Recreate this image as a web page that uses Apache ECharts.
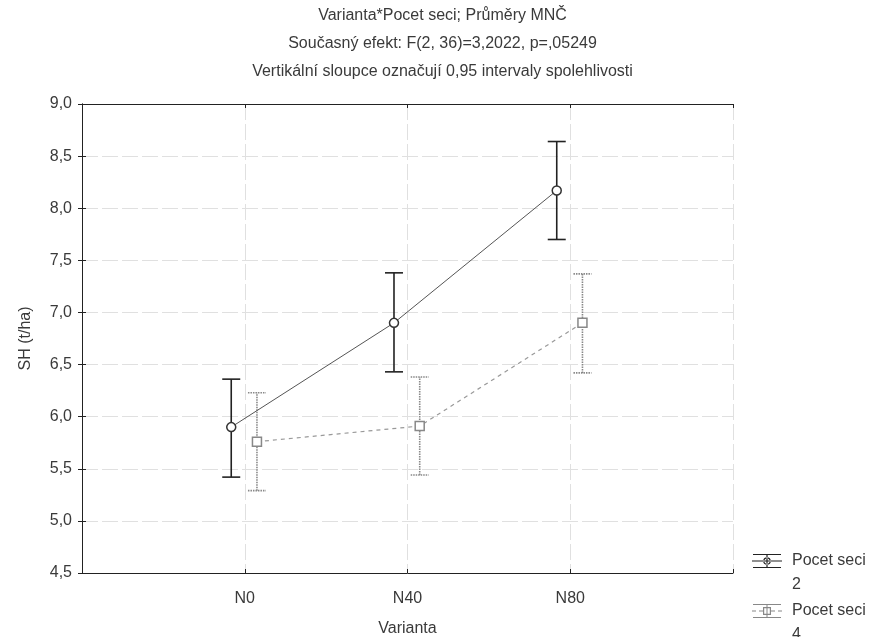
<!DOCTYPE html>
<html>
<head>
<meta charset="utf-8">
<script src="https://cdn.jsdelivr.net/npm/echarts@6/dist/echarts.min.js"></script>
<style>
  html, body { margin: 0; padding: 0; background: #fff; }
  #chart { width: 885px; height: 637px; }
</style>
</head>
<body>
<div id="chart"></div>
<script>
// Varianta x Pocet seci, means with 0.95 confidence intervals
const titleLines = [
  'Varianta*Pocet seci; Průměry MNČ',
  'Současný efekt: F(2, 36)=3,2022, p=,05249',
  'Vertikální sloupce označují 0,95 intervaly spolehlivosti'
];
const categories = ['N0', 'N40', 'N80'];
const seriesNames = ['Pocet seci 2', 'Pocet seci 4'];

const mean2 = [5.90, 6.90, 8.17];
const low2 = [5.42, 6.43, 7.70];
const high2 = [6.36, 7.38, 8.64];

const mean4 = [5.76, 5.91, 6.90];
const low4 = [5.29, 5.44, 6.42];
const high4 = [6.23, 6.38, 7.37];

const yMin = 4.5, yMax = 9.0, yStep = 0.5;

const font = "'Liberation Sans', Arial, sans-serif";
const textColor = '#3a3a3a';
// small horizontal shift so the two groups don't overlap at each category
const shift = [-0.083, 0.075];

// legend icons in a 30x48 box: caps, bar, line and marker drawn in the top part,
// two empty points keep the box tall so the icon sits next to the first text line
const iconBox = 'M0 0H0.01V0Z M0 48H0.01V48Z ';
const icon2 = 'path://' + iconBox +
  'M0 11.5H30V12.5H0Z M14.4 5H15.6V19H14.4Z M1 5H29V6H1Z M1 18H29V19H1Z ' +
  'M18.8 12A3.8 3.8 0 1 0 11.2 12A3.8 3.8 0 1 0 18.8 12Z M17.6 12A2.6 2.6 0 1 1 12.4 12A2.6 2.6 0 1 1 17.6 12Z';
const icon4 = 'path://' + iconBox +
  'M0 11.5H4V12.5H0Z M7 11.5H11V12.5H7Z M19 11.5H23V12.5H19Z M26 11.5H30V12.5H26Z ' +
  'M14.5 5H15.5V19H14.5Z M1 5H29V6H1Z M1 18H29V19H1Z ' +
  'M11 8H19V16H11Z M12.2 9.2V14.8H17.8V9.2Z';

function points(mean, k) {
  return mean.map((v, i) => [i + 1 + shift[k], v]);
}
function bars(low, high, k) {
  return low.map((v, i) => [i + 1 + shift[k], v, high[i]]);
}

function errorBar(style) {
  return function (params, api) {
    const x = api.value(0);
    const lo = api.coord([x, api.value(1)]);
    const hi = api.coord([x, api.value(2)]);
    const w = 9;
    return {
      type: 'group',
      children: [
        { type: 'line', shape: { x1: lo[0], y1: lo[1], x2: hi[0], y2: hi[1] }, style: style },
        { type: 'line', shape: { x1: hi[0] - w, y1: hi[1], x2: hi[0] + w, y2: hi[1] }, style: style },
        { type: 'line', shape: { x1: lo[0] - w, y1: lo[1], x2: lo[0] + w, y2: lo[1] }, style: style }
      ]
    };
  };
}

function legendFor(name, icon, color, top) {
  return {
    orient: 'vertical',
    left: 752,
    top: top,
    padding: 0,
    itemWidth: 30,
    itemHeight: 48,
    symbolKeepAspect: false,
    data: [{ name: name, icon: icon, itemStyle: { color: color, borderWidth: 0 } }],
    formatter: n => n.replace(/ (\d+)$/, '\n$1'),
    textStyle: { fontSize: 16, color: textColor, lineHeight: 24, padding: [0, 0, 0, 5], fontFamily: font }
  };
}

const chart = echarts.init(document.getElementById('chart'));

const gridLine = { show: true, lineStyle: { color: '#e0e0e0', type: [16, 4] } };
const xBase = {
  type: 'value',
  min: 0,
  max: categories.length + 1,
  interval: 1,
  axisLine: { lineStyle: { color: '#222', width: 1 } },
  axisTick: { inside: true, length: 4, lineStyle: { color: '#222' } }
};
const yBase = {
  type: 'value',
  min: yMin,
  max: yMax,
  interval: yStep,
  axisLine: { show: true, lineStyle: { color: '#222', width: 1 } },
  axisTick: { show: true, inside: true, length: 4, lineStyle: { color: '#222' } }
};

chart.setOption({
  animation: false,
  backgroundColor: '#fff',
  textStyle: { fontFamily: font },
  title: {
    text: titleLines.join('\n'),
    left: 'center',
    top: 2,
    padding: 0,
    textStyle: { fontSize: 16, fontWeight: 'normal', color: textColor, lineHeight: 28, fontFamily: font }
  },
  grid: { left: 82, right: 152, top: 104, bottom: 64, outerBoundsMode: 'none' },
  legend: [
    legendFor(seriesNames[0], icon2, '#222', 549),
    legendFor(seriesNames[1], icon4, '#888', 599)
  ],
  xAxis: [
    Object.assign({}, xBase, {
      position: 'bottom',
      name: 'Varianta',
      nameLocation: 'middle',
      nameGap: 48,
      nameTextStyle: { fontSize: 16, color: textColor },
      axisLabel: {
        fontSize: 16,
        color: textColor,
        margin: 18,
        formatter: v => categories[v - 1] || ''
      },
      splitLine: gridLine
    }),
    Object.assign({}, xBase, {
      position: 'top',
      axisLabel: { show: false },
      splitLine: { show: false }
    })
  ],
  yAxis: [
    Object.assign({}, yBase, {
      position: 'left',
      name: 'SH (t/ha)',
      nameLocation: 'middle',
      nameRotate: 90,
      nameGap: 48,
      nameTextStyle: { fontSize: 16, color: textColor },
      axisLabel: {
        fontSize: 16,
        color: textColor,
        margin: 10,
        formatter: v => v.toFixed(1).replace('.', ',')
      },
      splitLine: gridLine
    }),
    Object.assign({}, yBase, {
      position: 'right',
      axisLabel: { show: false },
      splitLine: { show: false }
    })
  ],
  series: [
    {
      name: seriesNames[0],
      type: 'line',
      data: points(mean2, 0),
      symbol: 'circle',
      symbolSize: 9,
      z: 5,
      lineStyle: { color: '#555', width: 1 },
      itemStyle: { color: '#fff', borderColor: '#333', borderWidth: 1.5 }
    },
    {
      name: seriesNames[1],
      type: 'line',
      data: points(mean4, 1),
      symbol: 'rect',
      symbolSize: 9,
      z: 5,
      lineStyle: { color: '#999', width: 1.2, type: [4, 4] },
      itemStyle: { color: '#fff', borderColor: '#888', borderWidth: 1.5 }
    },
    {
      name: seriesNames[0] + ' CI',
      type: 'custom',
      data: bars(low2, high2, 0),
      encode: { x: 0, y: [1, 2] },
      z: 4,
      renderItem: errorBar({ stroke: '#222', lineWidth: 1.6 })
    },
    {
      name: seriesNames[1] + ' CI',
      type: 'custom',
      data: bars(low4, high4, 1),
      encode: { x: 0, y: [1, 2] },
      z: 4,
      renderItem: errorBar({ stroke: '#888', lineWidth: 1.6, lineDash: [1.5, 1] })
    }
  ]
});
</script>
</body>
</html>
